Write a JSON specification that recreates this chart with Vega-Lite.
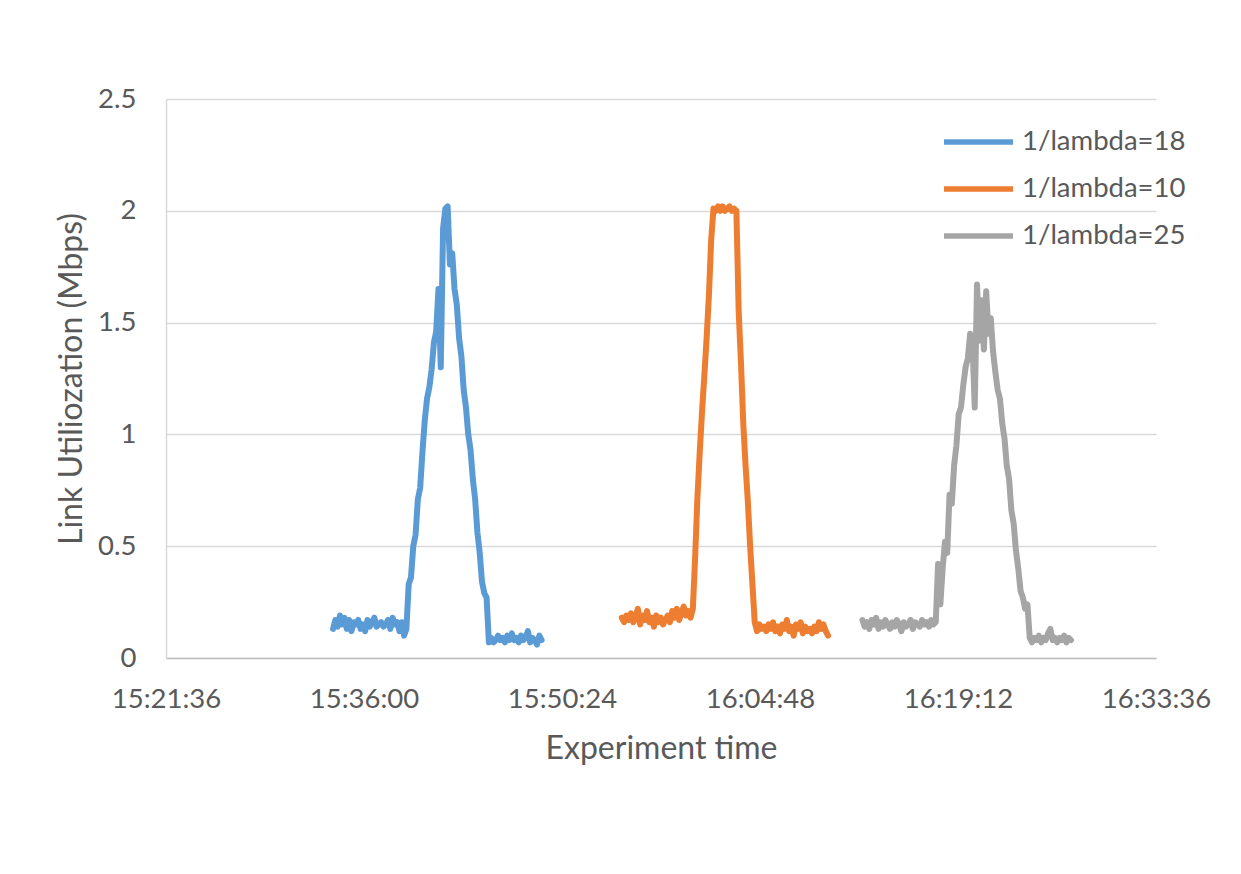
{
  "$schema": "https://vega.github.io/schema/vega-lite/v6.json",
  "width": 990,
  "height": 559,
  "autosize": {"type": "none"},
  "padding": {"left": 166, "top": 99, "right": 85, "bottom": 216},
  "background": "white",
  "config": {"view": {"stroke": null}, "font": "Lato"},
  "data": {
    "format": {"parse": {"t": "date:'%H:%M:%S'"}},
    "values": [
      {"s":"1/lambda=18","t":"15:33:45","v":0.13},{"s":"1/lambda=18","t":"15:33:55","v":0.17},{"s":"1/lambda=18","t":"15:34:05","v":0.14},{"s":"1/lambda=18","t":"15:34:15","v":0.19},{"s":"1/lambda=18","t":"15:34:25","v":0.15},{"s":"1/lambda=18","t":"15:34:35","v":0.18},{"s":"1/lambda=18","t":"15:34:45","v":0.13},{"s":"1/lambda=18","t":"15:34:55","v":0.17},{"s":"1/lambda=18","t":"15:35:05","v":0.12},{"s":"1/lambda=18","t":"15:35:15","v":0.16},{"s":"1/lambda=18","t":"15:35:25","v":0.15},{"s":"1/lambda=18","t":"15:35:35","v":0.17},{"s":"1/lambda=18","t":"15:35:45","v":0.13},{"s":"1/lambda=18","t":"15:35:55","v":0.15},{"s":"1/lambda=18","t":"15:36:05","v":0.12},{"s":"1/lambda=18","t":"15:36:15","v":0.17},{"s":"1/lambda=18","t":"15:36:25","v":0.14},{"s":"1/lambda=18","t":"15:36:35","v":0.16},{"s":"1/lambda=18","t":"15:36:45","v":0.18},{"s":"1/lambda=18","t":"15:36:55","v":0.14},{"s":"1/lambda=18","t":"15:37:05","v":0.15},{"s":"1/lambda=18","t":"15:37:15","v":0.16},{"s":"1/lambda=18","t":"15:37:25","v":0.14},{"s":"1/lambda=18","t":"15:37:35","v":0.15},{"s":"1/lambda=18","t":"15:37:45","v":0.17},{"s":"1/lambda=18","t":"15:37:55","v":0.13},{"s":"1/lambda=18","t":"15:38:05","v":0.18},{"s":"1/lambda=18","t":"15:38:15","v":0.15},{"s":"1/lambda=18","t":"15:38:25","v":0.16},{"s":"1/lambda=18","t":"15:38:35","v":0.12},{"s":"1/lambda=18","t":"15:38:45","v":0.16},{"s":"1/lambda=18","t":"15:38:55","v":0.10},{"s":"1/lambda=18","t":"15:39:05","v":0.13},
      {"s":"1/lambda=18","t":"15:39:15","v":0.33},{"s":"1/lambda=18","t":"15:39:25","v":0.36},{"s":"1/lambda=18","t":"15:39:35","v":0.50},{"s":"1/lambda=18","t":"15:39:45","v":0.55},{"s":"1/lambda=18","t":"15:39:55","v":0.71},{"s":"1/lambda=18","t":"15:40:05","v":0.76},{"s":"1/lambda=18","t":"15:40:15","v":0.92},{"s":"1/lambda=18","t":"15:40:25","v":1.06},{"s":"1/lambda=18","t":"15:40:35","v":1.16},{"s":"1/lambda=18","t":"15:40:45","v":1.21},{"s":"1/lambda=18","t":"15:40:55","v":1.29},{"s":"1/lambda=18","t":"15:41:05","v":1.41},{"s":"1/lambda=18","t":"15:41:15","v":1.46},{"s":"1/lambda=18","t":"15:41:25","v":1.65},{"s":"1/lambda=18","t":"15:41:35","v":1.30},{"s":"1/lambda=18","t":"15:41:45","v":1.92},{"s":"1/lambda=18","t":"15:41:55","v":2.01},{"s":"1/lambda=18","t":"15:42:05","v":2.02},{"s":"1/lambda=18","t":"15:42:15","v":1.76},{"s":"1/lambda=18","t":"15:42:25","v":1.81},{"s":"1/lambda=18","t":"15:42:35","v":1.65},{"s":"1/lambda=18","t":"15:42:45","v":1.58},{"s":"1/lambda=18","t":"15:42:55","v":1.43},{"s":"1/lambda=18","t":"15:43:05","v":1.35},{"s":"1/lambda=18","t":"15:43:15","v":1.20},{"s":"1/lambda=18","t":"15:43:25","v":1.12},{"s":"1/lambda=18","t":"15:43:35","v":1.00},{"s":"1/lambda=18","t":"15:43:45","v":0.93},{"s":"1/lambda=18","t":"15:43:55","v":0.80},{"s":"1/lambda=18","t":"15:44:05","v":0.71},{"s":"1/lambda=18","t":"15:44:15","v":0.56},{"s":"1/lambda=18","t":"15:44:25","v":0.47},{"s":"1/lambda=18","t":"15:44:35","v":0.34},{"s":"1/lambda=18","t":"15:44:45","v":0.29},{"s":"1/lambda=18","t":"15:44:55","v":0.27},{"s":"1/lambda=18","t":"15:45:05","v":0.07},
      {"s":"1/lambda=18","t":"15:45:15","v":0.09},{"s":"1/lambda=18","t":"15:45:25","v":0.07},{"s":"1/lambda=18","t":"15:45:35","v":0.08},{"s":"1/lambda=18","t":"15:45:45","v":0.10},{"s":"1/lambda=18","t":"15:45:55","v":0.08},{"s":"1/lambda=18","t":"15:46:05","v":0.09},{"s":"1/lambda=18","t":"15:46:15","v":0.07},{"s":"1/lambda=18","t":"15:46:25","v":0.10},{"s":"1/lambda=18","t":"15:46:35","v":0.08},{"s":"1/lambda=18","t":"15:46:45","v":0.11},{"s":"1/lambda=18","t":"15:46:55","v":0.08},{"s":"1/lambda=18","t":"15:47:05","v":0.09},{"s":"1/lambda=18","t":"15:47:15","v":0.07},{"s":"1/lambda=18","t":"15:47:25","v":0.10},{"s":"1/lambda=18","t":"15:47:35","v":0.08},{"s":"1/lambda=18","t":"15:47:45","v":0.09},{"s":"1/lambda=18","t":"15:47:55","v":0.12},{"s":"1/lambda=18","t":"15:48:05","v":0.07},{"s":"1/lambda=18","t":"15:48:15","v":0.09},{"s":"1/lambda=18","t":"15:48:25","v":0.08},{"s":"1/lambda=18","t":"15:48:35","v":0.06},{"s":"1/lambda=18","t":"15:48:45","v":0.10},{"s":"1/lambda=18","t":"15:48:55","v":0.08},
      {"s":"1/lambda=10","t":"15:54:45","v":0.18},{"s":"1/lambda=10","t":"15:54:55","v":0.16},{"s":"1/lambda=10","t":"15:55:05","v":0.19},{"s":"1/lambda=10","t":"15:55:15","v":0.17},{"s":"1/lambda=10","t":"15:55:25","v":0.20},{"s":"1/lambda=10","t":"15:55:35","v":0.16},{"s":"1/lambda=10","t":"15:55:45","v":0.18},{"s":"1/lambda=10","t":"15:55:55","v":0.22},{"s":"1/lambda=10","t":"15:56:05","v":0.15},{"s":"1/lambda=10","t":"15:56:15","v":0.19},{"s":"1/lambda=10","t":"15:56:25","v":0.17},{"s":"1/lambda=10","t":"15:56:35","v":0.21},{"s":"1/lambda=10","t":"15:56:45","v":0.16},{"s":"1/lambda=10","t":"15:56:55","v":0.18},{"s":"1/lambda=10","t":"15:57:05","v":0.14},{"s":"1/lambda=10","t":"15:57:15","v":0.19},{"s":"1/lambda=10","t":"15:57:25","v":0.16},{"s":"1/lambda=10","t":"15:57:35","v":0.18},{"s":"1/lambda=10","t":"15:57:45","v":0.15},{"s":"1/lambda=10","t":"15:57:55","v":0.17},{"s":"1/lambda=10","t":"15:58:05","v":0.19},{"s":"1/lambda=10","t":"15:58:15","v":0.16},{"s":"1/lambda=10","t":"15:58:25","v":0.21},{"s":"1/lambda=10","t":"15:58:35","v":0.18},{"s":"1/lambda=10","t":"15:58:45","v":0.22},{"s":"1/lambda=10","t":"15:58:55","v":0.17},{"s":"1/lambda=10","t":"15:59:05","v":0.20},{"s":"1/lambda=10","t":"15:59:15","v":0.23},{"s":"1/lambda=10","t":"15:59:25","v":0.19},{"s":"1/lambda=10","t":"15:59:35","v":0.21},{"s":"1/lambda=10","t":"15:59:45","v":0.18},{"s":"1/lambda=10","t":"15:59:55","v":0.22},
      {"s":"1/lambda=10","t":"16:00:05","v":0.45},{"s":"1/lambda=10","t":"16:00:15","v":0.72},{"s":"1/lambda=10","t":"16:00:25","v":0.92},{"s":"1/lambda=10","t":"16:00:35","v":1.10},{"s":"1/lambda=10","t":"16:00:45","v":1.26},{"s":"1/lambda=10","t":"16:00:55","v":1.43},{"s":"1/lambda=10","t":"16:01:05","v":1.62},{"s":"1/lambda=10","t":"16:01:15","v":1.87},{"s":"1/lambda=10","t":"16:01:25","v":2.01},{"s":"1/lambda=10","t":"16:01:35","v":2.00},{"s":"1/lambda=10","t":"16:01:45","v":2.02},{"s":"1/lambda=10","t":"16:01:55","v":2.00},{"s":"1/lambda=10","t":"16:02:05","v":2.02},{"s":"1/lambda=10","t":"16:02:15","v":2.00},{"s":"1/lambda=10","t":"16:02:25","v":2.01},{"s":"1/lambda=10","t":"16:02:35","v":2.02},{"s":"1/lambda=10","t":"16:02:45","v":2.00},{"s":"1/lambda=10","t":"16:02:55","v":2.01},{"s":"1/lambda=10","t":"16:03:05","v":2.00},{"s":"1/lambda=10","t":"16:03:15","v":1.55},{"s":"1/lambda=10","t":"16:03:25","v":1.32},{"s":"1/lambda=10","t":"16:03:35","v":1.05},{"s":"1/lambda=10","t":"16:03:45","v":0.86},{"s":"1/lambda=10","t":"16:03:55","v":0.70},{"s":"1/lambda=10","t":"16:04:05","v":0.50},{"s":"1/lambda=10","t":"16:04:15","v":0.33},{"s":"1/lambda=10","t":"16:04:25","v":0.16},
      {"s":"1/lambda=10","t":"16:04:35","v":0.12},{"s":"1/lambda=10","t":"16:04:45","v":0.15},{"s":"1/lambda=10","t":"16:04:55","v":0.13},{"s":"1/lambda=10","t":"16:05:05","v":0.14},{"s":"1/lambda=10","t":"16:05:15","v":0.12},{"s":"1/lambda=10","t":"16:05:25","v":0.15},{"s":"1/lambda=10","t":"16:05:35","v":0.13},{"s":"1/lambda=10","t":"16:05:45","v":0.16},{"s":"1/lambda=10","t":"16:05:55","v":0.12},{"s":"1/lambda=10","t":"16:06:05","v":0.14},{"s":"1/lambda=10","t":"16:06:15","v":0.11},{"s":"1/lambda=10","t":"16:06:25","v":0.15},{"s":"1/lambda=10","t":"16:06:35","v":0.13},{"s":"1/lambda=10","t":"16:06:45","v":0.17},{"s":"1/lambda=10","t":"16:06:55","v":0.12},{"s":"1/lambda=10","t":"16:07:05","v":0.14},{"s":"1/lambda=10","t":"16:07:15","v":0.10},{"s":"1/lambda=10","t":"16:07:25","v":0.15},{"s":"1/lambda=10","t":"16:07:35","v":0.13},{"s":"1/lambda=10","t":"16:07:45","v":0.16},{"s":"1/lambda=10","t":"16:07:55","v":0.11},{"s":"1/lambda=10","t":"16:08:05","v":0.14},{"s":"1/lambda=10","t":"16:08:15","v":0.12},{"s":"1/lambda=10","t":"16:08:25","v":0.13},{"s":"1/lambda=10","t":"16:08:35","v":0.11},{"s":"1/lambda=10","t":"16:08:45","v":0.14},{"s":"1/lambda=10","t":"16:08:55","v":0.12},{"s":"1/lambda=10","t":"16:09:05","v":0.16},{"s":"1/lambda=10","t":"16:09:15","v":0.13},{"s":"1/lambda=10","t":"16:09:25","v":0.15},{"s":"1/lambda=10","t":"16:09:35","v":0.12},{"s":"1/lambda=10","t":"16:09:45","v":0.10},
      {"s":"1/lambda=25","t":"16:12:15","v":0.17},{"s":"1/lambda=25","t":"16:12:25","v":0.14},{"s":"1/lambda=25","t":"16:12:35","v":0.16},{"s":"1/lambda=25","t":"16:12:45","v":0.13},{"s":"1/lambda=25","t":"16:12:55","v":0.17},{"s":"1/lambda=25","t":"16:13:05","v":0.15},{"s":"1/lambda=25","t":"16:13:15","v":0.18},{"s":"1/lambda=25","t":"16:13:25","v":0.13},{"s":"1/lambda=25","t":"16:13:35","v":0.16},{"s":"1/lambda=25","t":"16:13:45","v":0.14},{"s":"1/lambda=25","t":"16:13:55","v":0.17},{"s":"1/lambda=25","t":"16:14:05","v":0.15},{"s":"1/lambda=25","t":"16:14:15","v":0.13},{"s":"1/lambda=25","t":"16:14:25","v":0.16},{"s":"1/lambda=25","t":"16:14:35","v":0.14},{"s":"1/lambda=25","t":"16:14:45","v":0.17},{"s":"1/lambda=25","t":"16:14:55","v":0.15},{"s":"1/lambda=25","t":"16:15:05","v":0.12},{"s":"1/lambda=25","t":"16:15:15","v":0.16},{"s":"1/lambda=25","t":"16:15:25","v":0.14},{"s":"1/lambda=25","t":"16:15:35","v":0.15},{"s":"1/lambda=25","t":"16:15:45","v":0.17},{"s":"1/lambda=25","t":"16:15:55","v":0.13},{"s":"1/lambda=25","t":"16:16:05","v":0.16},{"s":"1/lambda=25","t":"16:16:15","v":0.15},{"s":"1/lambda=25","t":"16:16:25","v":0.14},{"s":"1/lambda=25","t":"16:16:35","v":0.17},{"s":"1/lambda=25","t":"16:16:45","v":0.15},{"s":"1/lambda=25","t":"16:16:55","v":0.16},{"s":"1/lambda=25","t":"16:17:05","v":0.14},{"s":"1/lambda=25","t":"16:17:15","v":0.17},{"s":"1/lambda=25","t":"16:17:25","v":0.15},{"s":"1/lambda=25","t":"16:17:35","v":0.16},
      {"s":"1/lambda=25","t":"16:17:45","v":0.42},{"s":"1/lambda=25","t":"16:17:55","v":0.24},{"s":"1/lambda=25","t":"16:18:05","v":0.40},{"s":"1/lambda=25","t":"16:18:15","v":0.52},{"s":"1/lambda=25","t":"16:18:25","v":0.47},{"s":"1/lambda=25","t":"16:18:35","v":0.73},{"s":"1/lambda=25","t":"16:18:45","v":0.69},{"s":"1/lambda=25","t":"16:18:55","v":0.86},{"s":"1/lambda=25","t":"16:19:05","v":0.95},{"s":"1/lambda=25","t":"16:19:15","v":1.09},{"s":"1/lambda=25","t":"16:19:25","v":1.12},{"s":"1/lambda=25","t":"16:19:35","v":1.22},{"s":"1/lambda=25","t":"16:19:45","v":1.30},{"s":"1/lambda=25","t":"16:19:55","v":1.34},{"s":"1/lambda=25","t":"16:20:05","v":1.45},{"s":"1/lambda=25","t":"16:20:15","v":1.42},{"s":"1/lambda=25","t":"16:20:25","v":1.12},{"s":"1/lambda=25","t":"16:20:35","v":1.67},{"s":"1/lambda=25","t":"16:20:45","v":1.42},{"s":"1/lambda=25","t":"16:20:55","v":1.60},{"s":"1/lambda=25","t":"16:21:05","v":1.38},{"s":"1/lambda=25","t":"16:21:15","v":1.64},{"s":"1/lambda=25","t":"16:21:25","v":1.45},{"s":"1/lambda=25","t":"16:21:35","v":1.52},{"s":"1/lambda=25","t":"16:21:45","v":1.37},{"s":"1/lambda=25","t":"16:21:55","v":1.28},{"s":"1/lambda=25","t":"16:22:05","v":1.20},{"s":"1/lambda=25","t":"16:22:15","v":1.16},{"s":"1/lambda=25","t":"16:22:25","v":1.05},{"s":"1/lambda=25","t":"16:22:35","v":0.98},{"s":"1/lambda=25","t":"16:22:45","v":0.86},{"s":"1/lambda=25","t":"16:22:55","v":0.80},{"s":"1/lambda=25","t":"16:23:05","v":0.66},{"s":"1/lambda=25","t":"16:23:15","v":0.60},{"s":"1/lambda=25","t":"16:23:25","v":0.48},{"s":"1/lambda=25","t":"16:23:35","v":0.40},{"s":"1/lambda=25","t":"16:23:45","v":0.30},{"s":"1/lambda=25","t":"16:23:55","v":0.27},{"s":"1/lambda=25","t":"16:24:05","v":0.22},{"s":"1/lambda=25","t":"16:24:15","v":0.24},{"s":"1/lambda=25","t":"16:24:25","v":0.09},
      {"s":"1/lambda=25","t":"16:24:35","v":0.07},{"s":"1/lambda=25","t":"16:24:45","v":0.09},{"s":"1/lambda=25","t":"16:24:55","v":0.08},{"s":"1/lambda=25","t":"16:25:05","v":0.10},{"s":"1/lambda=25","t":"16:25:15","v":0.07},{"s":"1/lambda=25","t":"16:25:25","v":0.09},{"s":"1/lambda=25","t":"16:25:35","v":0.08},{"s":"1/lambda=25","t":"16:25:45","v":0.11},{"s":"1/lambda=25","t":"16:25:55","v":0.13},{"s":"1/lambda=25","t":"16:26:05","v":0.08},{"s":"1/lambda=25","t":"16:26:15","v":0.09},{"s":"1/lambda=25","t":"16:26:25","v":0.07},{"s":"1/lambda=25","t":"16:26:35","v":0.09},{"s":"1/lambda=25","t":"16:26:45","v":0.08},{"s":"1/lambda=25","t":"16:26:55","v":0.10},{"s":"1/lambda=25","t":"16:27:05","v":0.07},{"s":"1/lambda=25","t":"16:27:15","v":0.09},{"s":"1/lambda=25","t":"16:27:25","v":0.08}
    ]
  },
  "mark": {"type": "line", "strokeWidth": 6, "strokeJoin": "round", "strokeCap": "round"},
  "encoding": {
    "x": {
      "field": "t",
      "type": "temporal",
      "scale": {"domain": [
        {"year": 1900, "month": 1, "date": 1, "hours": 15, "minutes": 21, "seconds": 36},
        {"year": 1900, "month": 1, "date": 1, "hours": 16, "minutes": 33, "seconds": 36}
      ]},
      "axis": {
        "values": [
          {"year": 1900, "month": 1, "date": 1, "hours": 15, "minutes": 21, "seconds": 36},
          {"year": 1900, "month": 1, "date": 1, "hours": 15, "minutes": 36, "seconds": 0},
          {"year": 1900, "month": 1, "date": 1, "hours": 15, "minutes": 50, "seconds": 24},
          {"year": 1900, "month": 1, "date": 1, "hours": 16, "minutes": 4, "seconds": 48},
          {"year": 1900, "month": 1, "date": 1, "hours": 16, "minutes": 19, "seconds": 12},
          {"year": 1900, "month": 1, "date": 1, "hours": 16, "minutes": 33, "seconds": 36}
        ],
        "format": "%H:%M:%S",
        "grid": false,
        "ticks": false,
        "domainColor": "#bfbfbf",
        "domainWidth": 1.5,
        "labelFont": "Lato",
        "labelFontSize": 27.5,
        "labelColor": "#595959",
        "labelPadding": 27,
        "labelOverlap": false,
        "labelFlush": false,
        "title": "Experiment time",
        "titleFont": "Lato",
        "titleFontSize": 32,
        "titleFontWeight": "normal",
        "titleColor": "#595959",
        "titleBaseline": "alphabetic",
        "titleY": 100
      }
    },
    "y": {
      "field": "v",
      "type": "quantitative",
      "scale": {"domain": [0, 2.5], "nice": false},
      "axis": {
        "values": [0, 0.5, 1, 1.5, 2, 2.5],
        "format": "~g",
        "gridColor": "#d9d9d9",
        "gridWidth": 1.5,
        "ticks": false,
        "domainColor": "#d9d9d9",
        "domainWidth": 1.5,
        "labelFont": "Lato",
        "labelFontSize": 27.5,
        "labelColor": "#595959",
        "labelPadding": 30,
        "labelOverlap": false,
        "labelFlush": false,
        "title": "Link Utiliozation (Mbps)",
        "titleFont": "Lato",
        "titleFontSize": 32,
        "titleFontWeight": "normal",
        "titleColor": "#595959",
        "titleAngle": -90,
        "titleBaseline": "alphabetic",
        "titleX": -85,
        "titleY": 279.5
      }
    },
    "color": {
      "field": "s",
      "type": "nominal",
      "scale": {
        "domain": ["1/lambda=18", "1/lambda=10", "1/lambda=25"],
        "range": ["#5b9bd5", "#ed7d31", "#a5a5a5"]
      },
      "legend": {
        "orient": "none",
        "legendX": 775,
        "legendY": 28,
        "title": null,
        "padding": 0,
        "symbolType": "stroke",
        "symbolSize": 4761,
        "symbolStrokeWidth": 5.5,
        "labelFont": "Lato",
        "labelFontSize": 27.5,
        "labelColor": "#595959",
        "labelOffset": 6,
        "labelLimit": 400,
        "clipHeight": 30,
        "rowPadding": 17
      }
    }
  }
}
